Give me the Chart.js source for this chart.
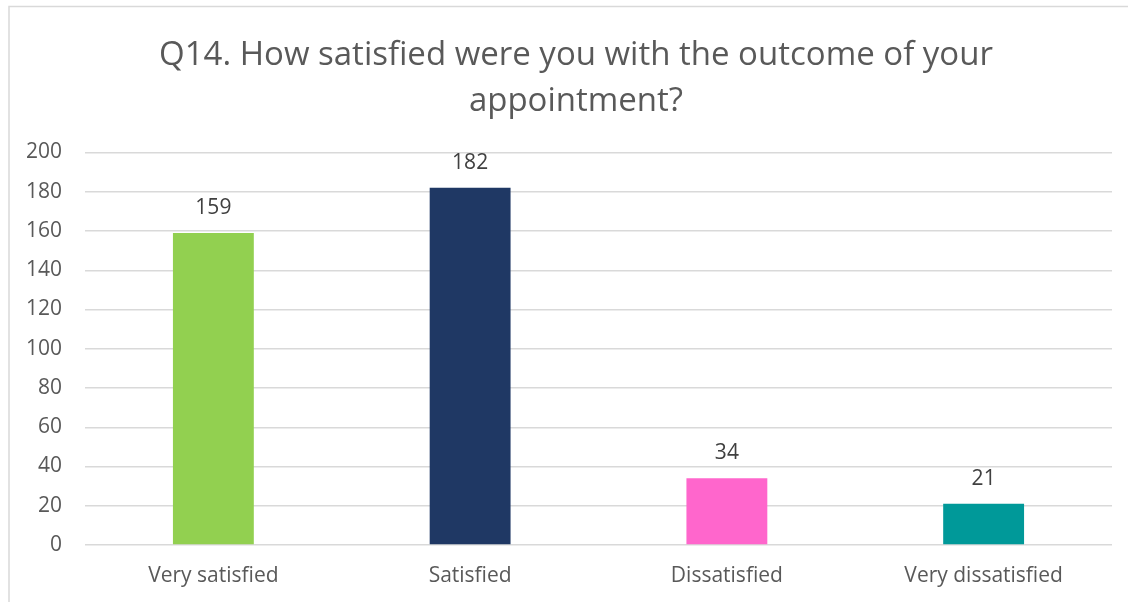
<!DOCTYPE html>
<html>
<head>
<meta charset="utf-8">
<script src="https://cdn.jsdelivr.net/npm/chart.js@4.4.1/dist/chart.umd.min.js"></script>
<style>
  html, body { margin: 0; padding: 0; background: #ffffff; }
  #wrap { width: 1128px; height: 602px; position: relative; }
</style>
</head>
<body>
<div id="wrap"><canvas id="chart" width="1128" height="602"></canvas></div>
<script>
// Survey responses for Q14
const categories = ["Very satisfied", "Satisfied", "Dissatisfied", "Very dissatisfied"];
const responses = [159, 182, 34, 21];
const barColors = ["#92D050", "#1F3864", "#FF66CC", "#009999"];
const yTicks = [0, 20, 40, 60, 80, 100, 120, 140, 160, 180, 200];

const FONT = "'Open Sans', 'Segoe UI', sans-serif";

// Light frame around the chart
const framePlugin = {
  id: "frame",
  beforeDraw(chart) {
    const ctx = chart.ctx;
    ctx.save();
    ctx.fillStyle = "#ffffff";
    ctx.fillRect(0, 0, chart.width, chart.height);
    ctx.strokeStyle = "#D9D9D9";
    ctx.lineWidth = 1.5;
    ctx.strokeRect(9, 6.5, chart.width + 20, chart.height + 20);
    ctx.restore();
  }
};

// Centre the title over the frame rather than the padded layout box
const titleOffset = {
  id: "titleOffset",
  afterLayout(chart) {
    if (chart.titleBlock) chart.titleBlock.left = 40;
  }
};

// Value labels above each bar
const valueLabels = {
  id: "valueLabels",
  afterDatasetsDraw(chart) {
    const ctx = chart.ctx;
    const meta = chart.getDatasetMeta(0);
    ctx.save();
    ctx.font = "21px " + FONT;
    ctx.fillStyle = "#404040";
    ctx.textAlign = "center";
    ctx.textBaseline = "middle";
    meta.data.forEach((bar, i) => {
      ctx.fillText(String(chart.data.datasets[0].data[i]), bar.x, bar.y - 25);
    });
    ctx.restore();
  }
};

new Chart(document.getElementById("chart"), {
  type: "bar",
  data: {
    labels: categories,
    datasets: [{
      data: responses,
      backgroundColor: barColors,
      borderWidth: 0,
      categoryPercentage: 1,
      barPercentage: 0.315
    }]
  },
  options: {
    responsive: false,
    animation: false,
    layout: { padding: { left: 0, right: 16, top: 0, bottom: 0 } },
    plugins: {
      legend: { display: false },
      tooltip: { enabled: false },
      title: {
        display: true,
        text: ["Q14. How satisfied were you with the outcome of your", "appointment?"],
        color: "#595959",
        font: { family: FONT, size: 33, weight: "normal", lineHeight: 1.394 },
        padding: { top: 33, bottom: 27.5 }
      }
    },
    scales: {
      x: {
        afterFit(scale) { scale.height = 57; },
        grid: { display: false, drawTicks: false },
        border: { display: false },
        ticks: {
          color: "#595959",
          font: { family: FONT, size: 21 },
          padding: 18
        }
      },
      y: {
        min: 0,
        max: 200,
        afterFit(scale) { scale.width = 85; },
        afterBuildTicks(scale) { scale.ticks = yTicks.map(v => ({ value: v })); },
        grid: { color: "#D9D9D9", lineWidth: 1.5, drawTicks: false },
        border: { display: false },
        ticks: {
          color: "#595959",
          font: { family: FONT, size: 21 },
          padding: 23
        }
      }
    }
  },
  plugins: [framePlugin, titleOffset, valueLabels]
});
</script>
</body>
</html>
